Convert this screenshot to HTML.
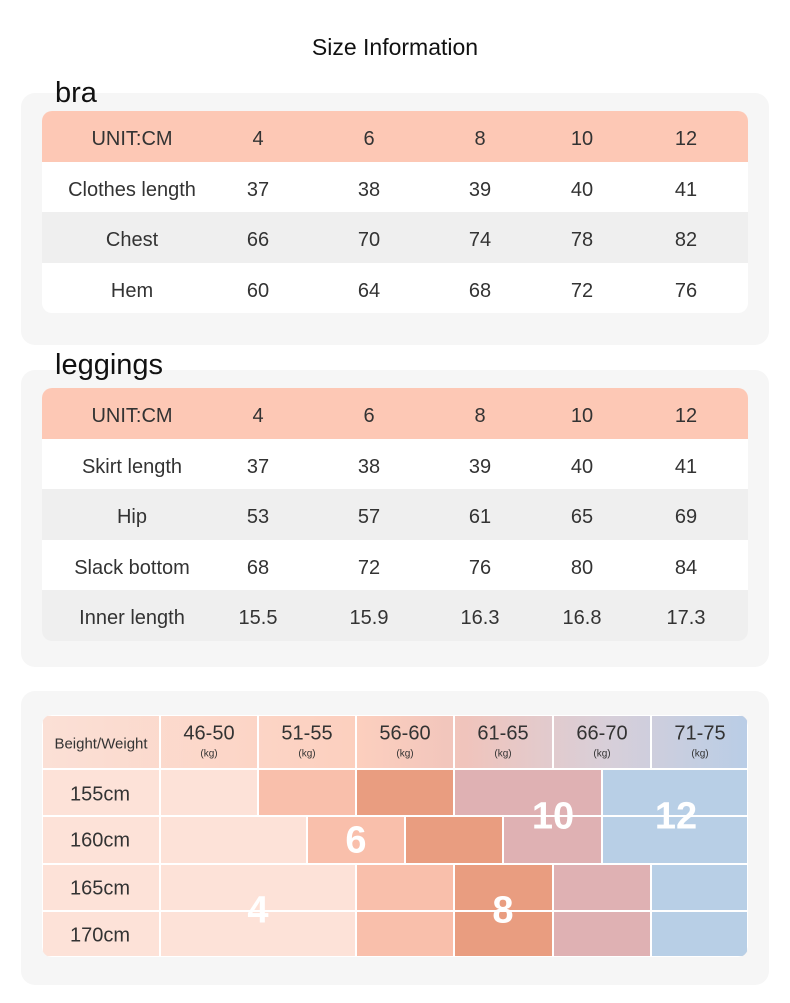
<!DOCTYPE html><html><head><style>
body{margin:0;width:790px;height:1003px;background:#fff;font-family:"Liberation Sans","DejaVu Sans",sans-serif;position:relative;overflow:hidden;color:#333}
.a{position:absolute}
.panel{position:absolute;left:21px;width:748px;background:#f6f6f6;border-radius:14px}
.t{position:absolute;left:42px;width:706px;border-radius:10px;overflow:hidden;background:#fff}
.r{position:absolute;left:0;width:706px;height:51px}
.c{position:absolute;top:3px;height:100%;display:flex;align-items:center;justify-content:center;font-size:20px;color:#333;transform:translateX(-50%);white-space:nowrap}
.cell{position:absolute;box-sizing:border-box;border:1px solid #fff}
.big{position:absolute;color:#fff;font-size:38px;font-weight:bold;transform:translate(-50%,-50%)}
.hl{position:absolute;font-size:20px;color:#333;transform:translate(-50%,-50%);white-space:nowrap}
</style></head><body>
<div class="a" style="left:0;width:790px;top:34px;text-align:center;font-size:23px;color:#111">Size Information</div>
<div class="panel" style="top:93px;height:252px"></div>
<div class="a" style="left:55px;top:77px;font-size:29px;color:#111">bra</div>
<div class="t" style="top:111px;height:202px">
<div class="r" style="top:0;background:#fdc8b5"><div class="c" style="left:90px">UNIT:CM</div><div class="c" style="left:216px">4</div><div class="c" style="left:327px">6</div><div class="c" style="left:438px">8</div><div class="c" style="left:540px">10</div><div class="c" style="left:644px">12</div></div>
<div class="r" style="top:51px"><div class="c" style="left:90px">Clothes length</div><div class="c" style="left:216px">37</div><div class="c" style="left:327px">38</div><div class="c" style="left:438px">39</div><div class="c" style="left:540px">40</div><div class="c" style="left:644px">41</div></div>
<div class="r" style="top:101px;background:#efefef"><div class="c" style="left:90px">Chest</div><div class="c" style="left:216px">66</div><div class="c" style="left:327px">70</div><div class="c" style="left:438px">74</div><div class="c" style="left:540px">78</div><div class="c" style="left:644px">82</div></div>
<div class="r" style="top:152px"><div class="c" style="left:90px">Hem</div><div class="c" style="left:216px">60</div><div class="c" style="left:327px">64</div><div class="c" style="left:438px">68</div><div class="c" style="left:540px">72</div><div class="c" style="left:644px">76</div></div>
</div>
<div class="panel" style="top:370px;height:297px"></div>
<div class="a" style="left:55px;top:349px;font-size:29px;color:#111">leggings</div>
<div class="t" style="top:388px;height:253px">
<div class="r" style="top:0;background:#fdc8b5"><div class="c" style="left:90px">UNIT:CM</div><div class="c" style="left:216px">4</div><div class="c" style="left:327px">6</div><div class="c" style="left:438px">8</div><div class="c" style="left:540px">10</div><div class="c" style="left:644px">12</div></div>
<div class="r" style="top:51px"><div class="c" style="left:90px">Skirt length</div><div class="c" style="left:216px">37</div><div class="c" style="left:327px">38</div><div class="c" style="left:438px">39</div><div class="c" style="left:540px">40</div><div class="c" style="left:644px">41</div></div>
<div class="r" style="top:101px;background:#efefef"><div class="c" style="left:90px">Hip</div><div class="c" style="left:216px">53</div><div class="c" style="left:327px">57</div><div class="c" style="left:438px">61</div><div class="c" style="left:540px">65</div><div class="c" style="left:644px">69</div></div>
<div class="r" style="top:152px"><div class="c" style="left:90px">Slack bottom</div><div class="c" style="left:216px">68</div><div class="c" style="left:327px">72</div><div class="c" style="left:438px">76</div><div class="c" style="left:540px">80</div><div class="c" style="left:644px">84</div></div>
<div class="r" style="top:202px;background:#efefef"><div class="c" style="left:90px">Inner length</div><div class="c" style="left:216px">15.5</div><div class="c" style="left:327px">15.9</div><div class="c" style="left:438px">16.3</div><div class="c" style="left:540px">16.8</div><div class="c" style="left:644px">17.3</div></div>
</div>
<div class="panel" style="top:691px;height:294px"></div>
<div class="a" style="left:42px;top:715px;width:706px;height:242px;border-radius:10px;overflow:hidden;background:#fde2d8">
<div class="a" style="left:0;top:0;width:706px;height:54px;background:linear-gradient(90deg,#fbe0d6 0%,#fccfbe 45%,#f0c4bc 60%,#d8cfd9 80%,#b9cde6 100%)"></div>
<div class="cell" style="left:0;top:0;width:118px;height:54px"></div>
<div class="cell" style="left:118px;top:0;width:98px;height:54px"></div><div class="cell" style="left:216px;top:0;width:98px;height:54px"></div><div class="cell" style="left:314px;top:0;width:98px;height:54px"></div><div class="cell" style="left:412px;top:0;width:99px;height:54px"></div><div class="cell" style="left:511px;top:0;width:98px;height:54px"></div><div class="cell" style="left:609px;top:0;width:97px;height:54px"></div>
<div class="cell" style="left:0;top:54px;width:118px;height:47px;background:#fde2d8"></div>
<div class="cell" style="left:0;top:101px;width:118px;height:48px;background:#fde2d8"></div>
<div class="cell" style="left:0;top:149px;width:118px;height:47px;background:#fde2d8"></div>
<div class="cell" style="left:0;top:196px;width:118px;height:46px;background:#fde2d8"></div>
<div class="cell" style="left:118px;top:54px;width:98px;height:47px;background:#fde2d8"></div>
<div class="cell" style="left:216px;top:54px;width:98px;height:47px;background:#f9bfab"></div>
<div class="cell" style="left:314px;top:54px;width:98px;height:47px;background:#e99d80"></div>
<div class="cell" style="left:412px;top:54px;width:148px;height:47px;background:#dfb1b3"></div>
<div class="cell" style="left:560px;top:54px;width:146px;height:47px;background:#b8cfe6"></div>
<div class="cell" style="left:118px;top:101px;width:147px;height:48px;background:#fde2d8"></div>
<div class="cell" style="left:265px;top:101px;width:98px;height:48px;background:#f9bfab"></div>
<div class="cell" style="left:363px;top:101px;width:98px;height:48px;background:#e99d80"></div>
<div class="cell" style="left:461px;top:101px;width:99px;height:48px;background:#dfb1b3"></div>
<div class="cell" style="left:560px;top:101px;width:146px;height:48px;background:#b8cfe6"></div>
<div class="cell" style="left:118px;top:149px;width:196px;height:47px;background:#fde2d8"></div>
<div class="cell" style="left:314px;top:149px;width:98px;height:47px;background:#f9bfab"></div>
<div class="cell" style="left:412px;top:149px;width:99px;height:47px;background:#e99d80"></div>
<div class="cell" style="left:511px;top:149px;width:98px;height:47px;background:#dfb1b3"></div>
<div class="cell" style="left:609px;top:149px;width:97px;height:47px;background:#b8cfe6"></div>
<div class="cell" style="left:118px;top:196px;width:196px;height:46px;background:#fde2d8"></div>
<div class="cell" style="left:314px;top:196px;width:98px;height:46px;background:#f9bfab"></div>
<div class="cell" style="left:412px;top:196px;width:99px;height:46px;background:#e99d80"></div>
<div class="cell" style="left:511px;top:196px;width:98px;height:46px;background:#dfb1b3"></div>
<div class="cell" style="left:609px;top:196px;width:97px;height:46px;background:#b8cfe6"></div>
<div class="hl" style="left:59px;top:29px;font-size:15px">Beight/Weight</div>
<div class="hl" style="left:167px;top:19px">46-50</div><div class="hl" style="left:265px;top:19px">51-55</div><div class="hl" style="left:363px;top:19px">56-60</div><div class="hl" style="left:461px;top:19px">61-65</div><div class="hl" style="left:560px;top:19px">66-70</div><div class="hl" style="left:658px;top:19px">71-75</div>
<div class="hl" style="left:167px;top:39px;font-size:10px">(kg)</div><div class="hl" style="left:265px;top:39px;font-size:10px">(kg)</div><div class="hl" style="left:363px;top:39px;font-size:10px">(kg)</div><div class="hl" style="left:461px;top:39px;font-size:10px">(kg)</div><div class="hl" style="left:560px;top:39px;font-size:10px">(kg)</div><div class="hl" style="left:658px;top:39px;font-size:10px">(kg)</div>
<div class="hl" style="left:58px;top:80px">155cm</div><div class="hl" style="left:58px;top:126px">160cm</div><div class="hl" style="left:58px;top:174px">165cm</div><div class="hl" style="left:58px;top:221px">170cm</div>
<div class="big" style="left:511px;top:102px">10</div>
<div class="big" style="left:634px;top:102px">12</div>
<div class="big" style="left:314px;top:126px">6</div>
<div class="big" style="left:216px;top:196px">4</div>
<div class="big" style="left:461px;top:196px">8</div>
</div>
</body></html>
